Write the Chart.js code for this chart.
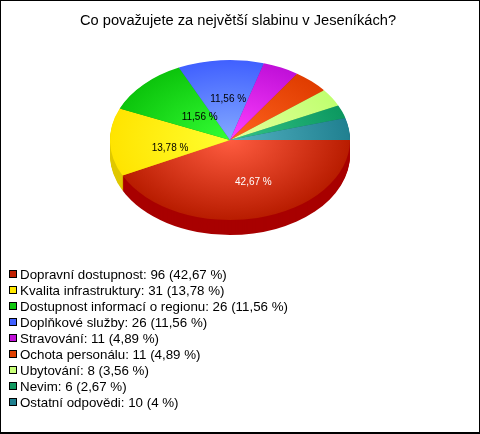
<!DOCTYPE html>
<html>
<head>
<meta charset="utf-8">
<title>Slabiny Jeseníků</title>
<script src="https://cdn.jsdelivr.net/npm/chart.js@4"></script>
<style>
  html, body { margin: 0; padding: 0; background: #fff; }
  #wrap { position: relative; width: 480px; height: 434px; overflow: hidden; }
  #wrap::after { content: ''; position: absolute; left: 0; top: 0; right: 0; bottom: 0; border: 1px solid #000; border-bottom-width: 2px; }
  canvas { position: absolute; left: 0; top: 0; }
  #legend { position: absolute; left: 9px; top: 267px; font: 13.33px/16px "Liberation Sans", Arial, sans-serif; color: #000; }
  #legend div { white-space: nowrap; }
  #legend i { display: inline-block; width: 6px; height: 6px; border: 1px solid #000; margin-right: 3px; position: relative; top: -1px; }
</style>
</head>
<body>
<div id="wrap">
  <canvas id="pie" width="480" height="434"></canvas>
  <div id="legend"></div>
</div>
<script>
const categories = ['Dopravní dostupnost', 'Kvalita infrastruktury', 'Dostupnost informací o regionu', 'Doplňkové služby', 'Stravování', 'Ochota personálu', 'Ubytování', 'Nevim', 'Ostatní odpovědi'];
const values = [96, 31, 26, 26, 11, 11, 8, 6, 10];
const percents = ['42,67', '13,78', '11,56', '11,56', '4,89', '4,89', '3,56', '2,67', '4'];
const titleText = 'Co považujete za největší slabinu v Jeseníkách?';

const lightColors = ['#ff5c40', '#ffff30', '#34ff34', '#84aaff', '#ff40ff', '#ff6420', '#e4ff9c', '#34c488', '#54b2c2'];
const edgeColors = ['#b81c00', '#ffe400', '#0cc40c', '#4060ff', '#c010d8', '#e03c00', '#c0ff70', '#0c9860', '#208090'];
const sideColors = ['#a80000', '#e0c800', '#0a9a0a', '#3048c0', '#9008a8', '#b03000', '#98c858', '#087848', '#186070'];
const legendColors = ['#c02000', '#ffe800', '#10c810', '#4060ff', '#c010d8', '#e04000', '#c8ff78', '#109860', '#208090'];

// ellipse look of the pie
const pieRadius = 120;
const pieCenter = [230, 140];
const squash = 2 / 3;
const depth = 15;
// labels that were moved from the middle of the slice in the original
const labelNudge = { 0: [9, 1], 1: [3, 7], 2: [15, 6], 3: [3, 1] };
const labelColors = ['#fff', '#000', '#000', '#000'];

function fillFor(ctx) {
  const area = ctx.chart.chartArea;
  if (!area) return edgeColors[ctx.dataIndex];
  const cx = (area.left + area.right) / 2;
  const cy = (area.top + area.bottom) / 2;
  const g = ctx.chart.ctx.createRadialGradient(cx, cy, 0, cx, cy, pieRadius);
  g.addColorStop(0, lightColors[ctx.dataIndex]);
  g.addColorStop(1, edgeColors[ctx.dataIndex]);
  return g;
}

const pie3d = {
  id: 'pie3d',
  beforeDatasetsDraw(chart) {
    const ctx = chart.ctx;
    const arcs = chart.getDatasetMeta(0).data;
    ctx.save();
    ctx.translate(pieCenter[0], pieCenter[1]);
    ctx.scale(1, squash);
    ctx.translate(-arcs[0].x, -arcs[0].y);
    // side wall, stacked copies of the slices under the top face
    for (let d = depth; d > 0; d--) {
      arcs.forEach((a, i) => {
        ctx.fillStyle = sideColors[i];
        ctx.beginPath();
        ctx.moveTo(a.x, a.y + d / squash);
        ctx.arc(a.x, a.y + d / squash, a.outerRadius, a.startAngle, a.endAngle);
        ctx.closePath();
        ctx.fill();
      });
    }
  },
  afterDatasetsDraw(chart) {
    const ctx = chart.ctx;
    ctx.restore();
    const arcs = chart.getDatasetMeta(0).data;
    ctx.save();
    ctx.font = '10px "Liberation Sans", Arial, sans-serif';
    ctx.textAlign = 'center';
    ctx.textBaseline = 'middle';
    labelColors.forEach((color, i) => {
      const a = arcs[i];
      const mid = (a.startAngle + a.endAngle) / 2;
      const r = a.outerRadius * 0.525;
      const nudge = labelNudge[i] || [0, 0];
      const x = pieCenter[0] + Math.cos(mid) * r + nudge[0];
      const y = pieCenter[1] + Math.sin(mid) * r * squash + nudge[1];
      ctx.fillStyle = color;
      ctx.fillText(percents[i] + ' %', x, y);
    });
    ctx.restore();
  }
};

new Chart(document.getElementById('pie'), {
  type: 'pie',
  data: {
    labels: categories,
    datasets: [{
      data: values,
      backgroundColor: fillFor,
      borderWidth: 0,
      radius: pieRadius,
      clip: false
    }]
  },
  options: {
    responsive: false,
    animation: false,
    rotation: 90,
    layout: { padding: { right: 4 } },
    plugins: {
      legend: { display: false },
      tooltip: { enabled: false },
      title: {
        display: true,
        text: titleText,
        color: '#000',
        font: { family: '"Liberation Sans", Arial, sans-serif', size: 14.67, weight: 'normal' },
        padding: { top: 12, bottom: 7 }
      }
    }
  },
  plugins: [pie3d]
});

// legend in one column
const legendBox = document.getElementById('legend');
categories.forEach((name, i) => {
  const row = document.createElement('div');
  const box = document.createElement('i');
  box.style.background = legendColors[i];
  row.appendChild(box);
  row.appendChild(document.createTextNode(`${name}: ${values[i]} (${percents[i]} %)`));
  legendBox.appendChild(row);
});
</script>
</body>
</html>
